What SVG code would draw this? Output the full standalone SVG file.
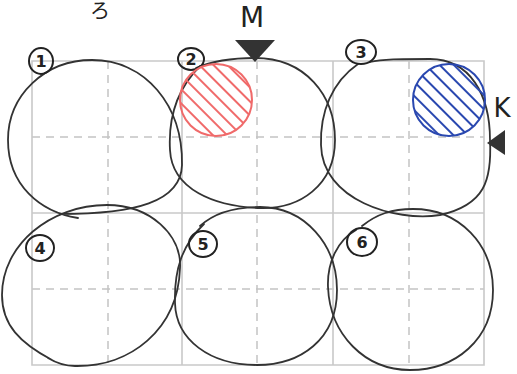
<svg xmlns="http://www.w3.org/2000/svg" width="517" height="374" viewBox="0 0 517 374">
<style>
.grid{stroke:#c9c9c9;stroke-width:1.6;fill:none}
.dash{stroke:#c4c4c4;stroke-width:1.5;fill:none;stroke-dasharray:8 6}
.loop{stroke:#333;stroke-width:1.8;fill:none;stroke-linecap:round}
.tag{stroke:#222;stroke-width:2;fill:none}
.num{font-family:"DejaVu Sans",sans-serif;font-size:16px;font-weight:bold;fill:#222;text-anchor:middle}
.hand{font-family:"DejaVu Sans","Noto Sans CJK JP",sans-serif;fill:#222}
</style>
<defs>
<pattern id="hatchR" patternUnits="userSpaceOnUse" width="10" height="10" patternTransform="rotate(45)">
<line x1="0" y1="5" x2="10" y2="5" stroke="#f06a6a" stroke-width="2"/>
</pattern>
<pattern id="hatchB" patternUnits="userSpaceOnUse" width="10" height="10" patternTransform="rotate(45)">
<line x1="0" y1="5" x2="10" y2="5" stroke="#2a48b0" stroke-width="2"/>
</pattern>
</defs>
<rect width="517" height="374" fill="#fff"/>
<g id="grid">
<path class="dash" d="M108 61V365M257 61V365M409 61V365M32 137H484M32 289H484"/>
<path class="grid" d="M32 61H484V365H32ZM182 61V365M333 61V365M32 213H484"/>
</g>
<text class="hand" x="90" y="18" font-size="20">ろ</text>
<g id="node1">
<path class="loop" d="M78 218 C40 212 8 185 8 140 C8 95 45 60 92 60 C145 60 183 105 182 165 C181 202 135 214 60 214"/>
<ellipse class="tag" cx="41" cy="61" rx="12" ry="13"/>
<text class="num" x="41" y="67">1</text>
</g>
<g id="node2">
<path class="loop" d="M196 68 C212 61 232 58 255 58 C305 58 335 95 335 140 C335 185 300 210 258 208 C215 206 172 190 170 150 C168 115 178 88 200 66"/>
<ellipse class="tag" cx="191" cy="59" rx="13" ry="11"/>
<text class="num" x="191" y="65">2</text>
</g>
<g id="node3">
<path class="loop" d="M370 62 C382 59 400 59 430 59 C470 59 490 95 490 140 C492 180 485 205 440 215 C395 222 322 200 321 145 C320 112 332 82 358 64"/>
<ellipse class="tag" cx="361" cy="52" rx="15" ry="12"/>
<text class="num" x="361" y="58">3</text>
</g>
<g id="node4">
<path class="loop" d="M52 360 C20 343 2 325 2 295 C2 245 50 205 107 205 C150 205 182 235 180 268 C178 330 130 367 75 366 C65 366 58 364 48 358"/>
<ellipse class="tag" cx="40" cy="248" rx="14" ry="13"/>
<text class="num" x="40" y="254">4</text>
</g>
<g id="node5">
<path class="loop" d="M200 226 C215 212 235 207 260 207 C305 207 337 245 337 290 C337 340 300 365 257 365 C210 365 176 340 175 303 C174 270 182 245 204 224"/>
<ellipse class="tag" cx="203" cy="244" rx="14" ry="13"/>
<text class="num" x="203" y="250">5</text>
</g>
<g id="node6">
<path class="loop" d="M362 226 C377 214 392 209 413 209 C460 209 493 245 493 290 C493 340 455 370 410 370 C365 370 330 335 328 287 C327 262 338 240 356 230"/>
<ellipse class="tag" cx="362" cy="242" rx="15" ry="14"/>
<text class="num" x="362" y="248">6</text>
</g>
<g id="redzone">
<circle cx="216" cy="100" r="36" fill="url(#hatchR)" stroke="#f06a6a" stroke-width="2"/>
</g>
<g id="bluezone">
<circle cx="449" cy="100" r="36" fill="url(#hatchB)" stroke="#2a48b0" stroke-width="2"/>
</g>
<g id="markerM">
<polygon points="235,40 275,40 255,62" fill="#333"/>
<text class="hand" x="252" y="27" font-size="28" text-anchor="middle">M</text>
</g>
<g id="markerK">
<polygon points="487,143 505,130 505,155" fill="#333"/>
<text class="hand" x="502" y="117" font-size="26" text-anchor="middle">K</text>
</g>
</svg>
